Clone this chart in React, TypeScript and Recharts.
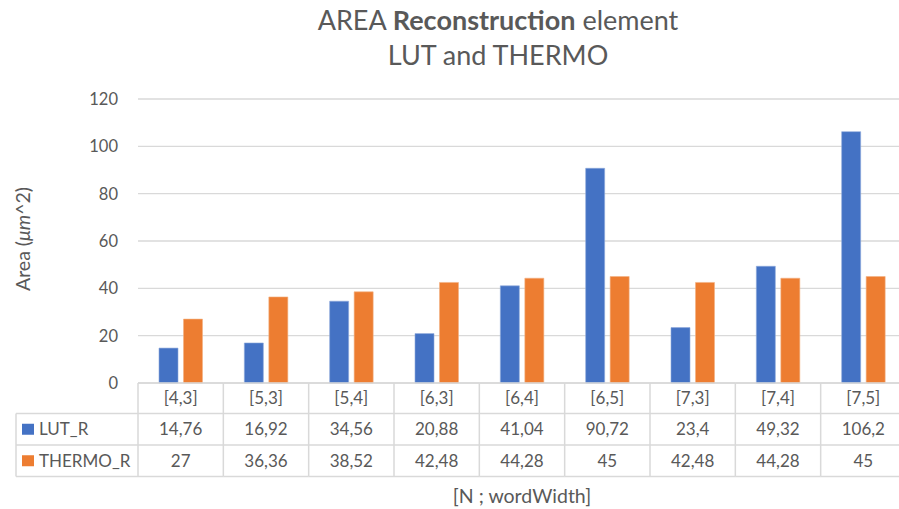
import React from 'react';
import { BarChart, Bar, XAxis, YAxis, CartesianGrid, Customized } from 'recharts';

// Categories and series values
const categories = ['[4,3]', '[5,3]', '[5,4]', '[6,3]', '[6,4]', '[6,5]', '[7,3]', '[7,4]', '[7,5]'];
const lutValues = [14.76, 16.92, 34.56, 20.88, 41.04, 90.72, 23.4, 49.32, 106.2];
const thermoValues = [27, 36.36, 38.52, 42.48, 44.28, 45, 42.48, 44.28, 45];
const yTicks = [0, 20, 40, 60, 80, 100, 120];

const seriesNames = ['LUT_R', 'THERMO_R'];
const seriesColors = ['#4472C4', '#ED7D31'];

const data = categories.map((c, i) => ({ name: c, lut: lutValues[i], thermo: thermoValues[i] }));

// Layout
const CHART_W = 912;
const CHART_H = 509;
const MARGIN = { top: 99, right: 6, bottom: 32, left: 0 };
const Y_AXIS_W = 138;
const TABLE_H = 94;
const PLOT_LEFT = MARGIN.left + Y_AXIS_W;
const PLOT_RIGHT = CHART_W - MARGIN.right;
const PLOT_BOTTOM = CHART_H - MARGIN.bottom - TABLE_H;
const COL_W = (PLOT_RIGHT - PLOT_LEFT) / categories.length;
const ROWS = [PLOT_BOTTOM, PLOT_BOTTOM + 30.5, PLOT_BOTTOM + 62, PLOT_BOTTOM + 93.5];
const LEGEND_LEFT = 16;

const FONT = 'Lato, "Open Sans", sans-serif';
const TEXT = '#595959';
const LINE = '#D9D9D9';

const fmt = (v: number) => String(v).replace('.', ',');

function YTick(props: any) {
  const { y, payload } = props;
  return (
    <text x={118} y={y} dy={6} textAnchor="end" fill={TEXT} fontSize={16.5} fontFamily={FONT}>
      {payload.value}
    </text>
  );
}

// Each category tick draws its own column of the data table
function TableColumn(props: any) {
  const { x, index, payload } = props;
  const left = x - COL_W / 2;
  const right = x + COL_W / 2;
  const rowMid = (r: number) => (ROWS[r] + ROWS[r + 1]) / 2;
  const cellText = (r: number, s: string) => (
    <text x={x} y={rowMid(r)} dy={6} textAnchor="middle" fill={TEXT} fontSize={17} fontFamily={FONT}>
      {s}
    </text>
  );
  return (
    <g>
      {ROWS.map((ry, k) => (
        <line key={k} x1={left} x2={right} y1={ry} y2={ry} stroke={LINE} strokeWidth={1.5} />
      ))}
      <line x1={right} x2={right} y1={ROWS[0]} y2={ROWS[3]} stroke={LINE} strokeWidth={1.5} />
      {index === 0 && (
        <g>
          <line x1={left} x2={left} y1={ROWS[0]} y2={ROWS[3]} stroke={LINE} strokeWidth={1.5} />
          {[1, 2, 3].map((r) => (
            <line key={r} x1={LEGEND_LEFT} x2={left} y1={ROWS[r]} y2={ROWS[r]} stroke={LINE} strokeWidth={1.5} />
          ))}
          <line x1={LEGEND_LEFT} x2={LEGEND_LEFT} y1={ROWS[1]} y2={ROWS[3]} stroke={LINE} strokeWidth={1.5} />
          {seriesNames.map((n, k) => (
            <g key={n}>
              <rect x={22} y={rowMid(k + 1) - 5.5} width={12} height={11} fill={seriesColors[k]} />
              <text x={39} y={rowMid(k + 1)} dy={6} fill={TEXT} fontSize={17} fontFamily={FONT}>
                {n}
              </text>
            </g>
          ))}
        </g>
      )}
      {cellText(0, payload.value)}
      {cellText(1, fmt(lutValues[index]))}
      {cellText(2, fmt(thermoValues[index]))}
    </g>
  );
}

function ChartTexts() {
  const cx = 498;
  const plotMid = (PLOT_LEFT + PLOT_RIGHT) / 2;
  return (
    <g fontFamily={FONT} fill={TEXT}>
      <text x={cx} y={29.5} textAnchor="middle" fontSize={27}>
        AREA <tspan fontWeight="bold">Reconstruction</tspan> element
      </text>
      <text x={cx} y={64.5} textAnchor="middle" fontSize={27}>
        LUT and THERMO
      </text>
      <text x={0} y={0} transform="translate(30,239) rotate(-90)" textAnchor="middle" fontSize={19.5}>
        Area (<tspan fontStyle="italic">μm</tspan>^2)
      </text>
      <text x={plotMid} y={502.5} textAnchor="middle" fontSize={19.5}>
        [N ; wordWidth]
      </text>
    </g>
  );
}

export default function App() {
  return (
    <div
      style={{
        position: 'absolute',
        left: 0,
        top: 0,
        width: 899,
        height: 509,
        overflow: 'hidden',
        background: '#fff',
      }}
    >
      <BarChart width={CHART_W} height={CHART_H} data={data} margin={MARGIN} barGap={5.5} barSize={19}>
        <CartesianGrid vertical={false} stroke={LINE} strokeWidth={1.3} />
        <XAxis
          dataKey="name"
          height={TABLE_H}
          axisLine={false}
          tickLine={false}
          interval={0}
          tick={<TableColumn />}
        />
        <YAxis
          width={Y_AXIS_W}
          domain={[0, 120]}
          ticks={yTicks}
          axisLine={false}
          tickLine={false}
          tick={<YTick />}
          interval={0}
        />
        <Bar dataKey="lut" name={seriesNames[0]} fill={seriesColors[0]} stroke="#8FAADC" strokeWidth={0.6} isAnimationActive={false} />
        <Bar dataKey="thermo" name={seriesNames[1]} fill={seriesColors[1]} stroke="#F4B183" strokeWidth={0.6} isAnimationActive={false} />
        <Customized component={<ChartTexts />} />
      </BarChart>
    </div>
  );
}
